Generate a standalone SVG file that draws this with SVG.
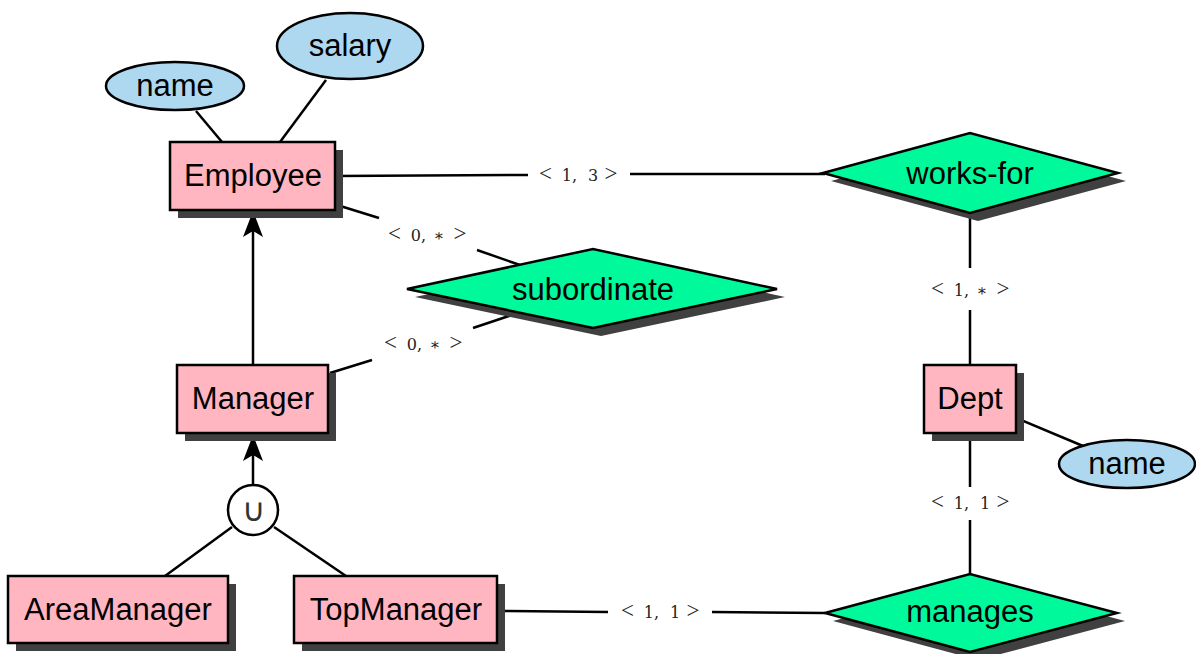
<svg xmlns="http://www.w3.org/2000/svg" width="1196" height="654" viewBox="0 0 1196 654">
<style>
.ent{fill:#FFB6C1;stroke:#000;stroke-width:2.5}
.rel{fill:#00F99A;stroke:#000;stroke-width:2.5}
.att{fill:#ADD8F0;stroke:#000;stroke-width:2.5}
.sh{fill:#404040}
.t{font-family:"Liberation Sans",Arial,sans-serif;font-size:31px;text-anchor:middle;fill:#000}
.lab{font-family:"DejaVu Serif",serif;font-size:16px;text-anchor:middle;fill:#222}
.op{font-family:"Liberation Serif",serif;font-size:23px}
.st{font-size:16px}
.ln{stroke:#000;stroke-width:2.5;fill:none}
</style>
<defs>
<marker id="arr" markerWidth="28" markerHeight="22" refX="26" refY="10" orient="auto" markerUnits="userSpaceOnUse">
<path d="M26,10 L0,0 L6,10 L0,20 Z" fill="#000"/>
</marker>
</defs>
<g id="connectors">
<line class="ln" x1="222" y1="142" x2="196" y2="111"/>
<line class="ln" x1="280" y1="142" x2="326" y2="80"/>
<line class="ln" x1="335" y1="176" x2="528" y2="175"/>
<line class="ln" x1="630" y1="174" x2="825" y2="174"/>
<text class="lab" y="181"><tspan class="op" x="545.5">&lt;</tspan><tspan x="569.5">1,</tspan><tspan x="593">3</tspan><tspan class="op" x="611">&gt;</tspan></text>
<line class="ln" x1="337" y1="205" x2="379" y2="218"/>
<line class="ln" x1="477" y1="250" x2="520" y2="265"/>
<text class="lab" y="241"><tspan class="op" x="394.5">&lt;</tspan><tspan x="418.5">0,</tspan><tspan class="st" x="439">∗</tspan><tspan class="op" x="460">&gt;</tspan></text>
<line class="ln" x1="330" y1="373" x2="372" y2="360"/>
<line class="ln" x1="473" y1="328" x2="518" y2="313"/>
<text class="lab" y="350"><tspan class="op" x="390.5">&lt;</tspan><tspan x="414.5">0,</tspan><tspan class="st" x="435">∗</tspan><tspan class="op" x="456">&gt;</tspan></text>
<line class="ln" x1="253" y1="365" x2="253" y2="211" marker-end="url(#arr)"/>
<line class="ln" x1="253" y1="485" x2="253" y2="435" marker-end="url(#arr)"/>
<line class="ln" x1="232" y1="527" x2="165" y2="576"/>
<line class="ln" x1="274" y1="527" x2="346" y2="576"/>
<line class="ln" x1="497" y1="611" x2="608" y2="612"/>
<line class="ln" x1="712" y1="612" x2="825" y2="613"/>
<text class="lab" y="618"><tspan class="op" x="627.5">&lt;</tspan><tspan x="651.5">1,</tspan><tspan x="675">1</tspan><tspan class="op" x="693">&gt;</tspan></text>
<line class="ln" x1="970" y1="213" x2="970" y2="268"/>
<line class="ln" x1="970" y1="310" x2="970" y2="365"/>
<text class="lab" y="296"><tspan class="op" x="937.5">&lt;</tspan><tspan x="961.5">1,</tspan><tspan class="st" x="982">∗</tspan><tspan class="op" x="1003">&gt;</tspan></text>
<line class="ln" x1="970" y1="433" x2="970" y2="487"/>
<line class="ln" x1="970" y1="520" x2="970" y2="574"/>
<text class="lab" y="509"><tspan class="op" x="937.5">&lt;</tspan><tspan x="961.5">1,</tspan><tspan x="985">1</tspan><tspan class="op" x="1003">&gt;</tspan></text>
<line class="ln" x1="1016" y1="418" x2="1083" y2="446"/>
</g>
<g id="attr-name">
<ellipse class="att" cx="175" cy="86" rx="69" ry="24"/>
<text class="t" x="175" y="96">name</text>
</g>
<g id="attr-salary">
<ellipse class="att" cx="350" cy="46" rx="73" ry="33"/>
<text class="t" x="350" y="56">salary</text>
</g>
<g id="Employee">
<rect class="sh" x="178" y="150" width="165" height="68"/>
<rect class="ent" x="170" y="142" width="165" height="68"/>
<text class="t" x="253" y="186">Employee</text>
</g>
<g id="works-for">
<polygon class="sh" points="831,181 978,141 1126,181 978,221"/>
<polygon class="rel" points="823,173 970,133 1118,173 970,213"/>
<text class="t" x="970" y="184">works-for</text>
</g>
<g id="subordinate">
<polygon class="sh" points="415,297 601,257 785,297 601,336"/>
<polygon class="rel" points="407,289 593,249 777,289 593,328"/>
<text class="t" x="593" y="300">subordinate</text>
</g>
<g id="Manager">
<rect class="sh" x="185" y="373" width="151" height="68"/>
<rect class="ent" x="177" y="365" width="151" height="68"/>
<text class="t" x="253" y="409">Manager</text>
</g>
<g id="union">
<circle cx="253" cy="510" r="25" fill="#fff" stroke="#000" stroke-width="2.5"/>
<text x="253" y="521" font-family="DejaVu Sans,sans-serif" font-size="32" font-weight="200" text-anchor="middle" fill="#333">∪</text>
</g>
<g id="AreaManager">
<rect class="sh" x="16" y="584" width="220" height="67"/>
<rect class="ent" x="8" y="576" width="220" height="67"/>
<text class="t" x="118" y="620">AreaManager</text>
</g>
<g id="TopManager">
<rect class="sh" x="302" y="584" width="203" height="67"/>
<rect class="ent" x="294" y="576" width="203" height="67"/>
<text class="t" x="396" y="620">TopManager</text>
</g>
<g id="Dept">
<rect class="sh" x="932" y="373" width="92" height="68"/>
<rect class="ent" x="924" y="365" width="92" height="68"/>
<text class="t" x="970" y="409">Dept</text>
</g>
<g id="dept-name">
<ellipse class="att" cx="1127" cy="464" rx="68" ry="24"/>
<text class="t" x="1127" y="474">name</text>
</g>
<g id="manages">
<polygon class="sh" points="833,621 978,582 1125,621 978,660"/>
<polygon class="rel" points="825,613 970,574 1117,613 970,652"/>
<text class="t" x="970" y="622">manages</text>
</g>
</svg>
